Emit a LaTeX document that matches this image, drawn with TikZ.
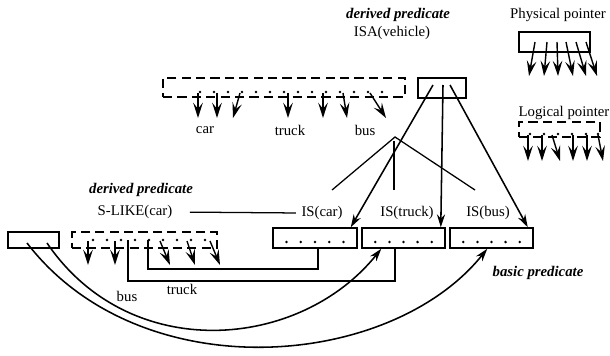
\documentclass[tikz,border=0pt]{standalone}
\usepackage{fontspec}
\setmainfont{Liberation Serif}
\usetikzlibrary{
  arrows.meta,
  calc,
  positioning
}
\tikzset{
  ptrBox/.style={
    draw,
    line width=1.1pt,
    inner sep=0pt,
    minimum height=5mm
  },
  logBox/.style={ptrBox, dash pattern=on 2.3mm off 1.3mm},
  predLabel/.style={font=\fontsize{10.5}{12}\selectfont\bfseries\itshape, inner sep=1pt},
  nameLabel/.style={font=\fontsize{10.5}{12}\selectfont, inner sep=1pt},
  ptrArrow/.style={line width=1pt, -{Stealth[length=3.8mm,width=2.4mm,inset=1.5mm]}},
  linkArrow/.style={line width=1.1pt, -{Stealth[length=3.2mm,width=2mm]}},
  linkLine/.style={line width=1.1pt},
  ptrDot/.style={circle, fill, inner sep=0pt, minimum size=0.7mm}
}

\begin{document}
\begin{tikzpicture}[x=0.25mm,y=-0.25mm]
  \useasboundingbox (0,0) rectangle (610,355);

  % ISA(vehicle) and its logical pointer list
  \node[predLabel] (isaKind) at (398,15) {derived predicate};
  \node[nameLabel] (isaLbl) at (392,33) {ISA(vehicle)};
  \node[ptrBox, minimum width=12mm] (isa) at (442,88) {};
  \node[logBox, minimum width=60.5mm, minimum height=4.75mm] (vehList) at (284,87.5) {};
  \foreach \x in {200,214,...,390}
    \node[ptrDot] at (\x,92) {};
  \foreach \s/\e in {198/198,217/217,240/233,288/288,323/323,343/347,370/386}
    \draw[ptrArrow] (\s,93) -- (\e,118);
  \node[nameLabel] (carTop) at (205,130) {car};
  \node[nameLabel] (truckTop) at (290,130) {truck};
  \node[nameLabel] (busTop) at (365,130) {bus};

  % legend
  \node[nameLabel] (physLbl) at (558,15) {Physical pointer};
  \node[ptrBox, minimum width=17.75mm] (phys) at (554.5,42) {};
  \foreach \s/\e in {535/529,547/544,557/558,566/573,576/586,586/597}
    \draw[ptrArrow] (\s,42) -- (\e,76);
  \node[nameLabel] (logLbl) at (564,113) {Logical pointer};
  \node[logBox, minimum width=20.25mm, minimum height=3.75mm] (logi) at (559.5,129.5) {};
  \foreach \x in {530,544,558,572,586,598}
    \node[ptrDot] at (\x,134) {};
  \foreach \s/\e in {528/528,542/542,552/560,573/573,587/587,598/603}
    \draw[ptrArrow] (\s,135) -- (\e,161);

  % basic predicates
  \node[nameLabel] (iscarLbl) at (322,213) {IS(car)};
  \node[nameLabel] (istruckLbl) at (407,213) {IS(truck)};
  \node[nameLabel] (isbusLbl) at (488,213) {IS(bus)};
  \node[ptrBox, minimum width=21mm] (iscar) at (315,238) {};
  \node[ptrBox, minimum width=20.75mm] (istruck) at (403.5,238) {};
  \node[ptrBox, minimum width=20.75mm] (isbus) at (491.5,238) {};
  \foreach \b in {iscar,istruck,isbus}
    \foreach \i in {1,...,5}
      \node[ptrDot] at ($(\b.west)!\i/6!(\b.east)+(0,4)$) {};
  \node[predLabel] (basicKind) at (538,273) {basic predicate};

  % ISA hierarchy
  \coordinate (treeTop) at (395,137);
  \coordinate (treeCar) at (332,190);
  \coordinate (treeTruck) at (394,190);
  \coordinate (treeBus) at (475,190);
  \draw[linkLine, line width=0.9pt] (treeCar) -- (treeTop) -- (treeBus);
  \draw[linkLine, line width=0.9pt] ($(treeTop)+(-1,4)$) -- (treeTruck);

  \draw[linkArrow] ($(isa.center)+(-9,-3)$) -- ($(iscar.north east)+(-7,0)$);
  \draw[linkArrow] ($(isa.center)+(1,-3)$) -- ($(istruck.north east)+(-5,0)$);
  \draw[linkArrow] ($(isa.center)+(8,-3)$) -- ($(isbus.north east)+(-6,0)$);

  % S-LIKE(car)
  \node[predLabel] (slikeKind) at (141,190) {derived predicate};
  \node[nameLabel] (slikeLbl) at (135,212) {S-LIKE(car)};
  \draw[linkLine, line width=0.9pt, shorten <=4mm, shorten >=1mm] (slikeLbl.east) -- (iscarLbl.west);
  \node[ptrBox, minimum width=12.75mm, minimum height=4mm] (slikeRef) at (33.5,240) {};
  \node[logBox, minimum width=36.25mm, minimum height=4mm] (slikeList) at (144.5,240) {};
  \foreach \x in {93,107,...,205}
    \node[ptrDot] at (\x,240) {};
  \foreach \s/\e in {88/88,115/115,160/170,187/195,210/220}
    \draw[ptrArrow] (\s,241) -- (\e,265);

  \draw[linkLine] ($(slikeList.center)+(3.5,0)$) |- ($(iscar.south)+(3,20)$) -- ($(iscar.south)+(3,0)$);
  \draw[linkLine] ($(slikeList.center)+(-16.5,0)$) |- ($(istruck.south)+(-8.5,32)$) -- ($(istruck.south)+(-8.5,0)$);
  \node[nameLabel] (truckLow) at (182,289) {truck};
  \node[nameLabel] (busLow) at (127,296) {bus};

  \draw[linkArrow] ($(slikeRef.center)+(13.5,3)$) .. controls (130,365) and (300,350) .. ($(istruck.south west)+(20,0)$);
  \draw[linkArrow] ($(slikeRef.center)+(-6.5,3)$) .. controls (140,390) and (390,370) .. ($(isbus.south west)+(38,0)$);
\end{tikzpicture}
\end{document}
